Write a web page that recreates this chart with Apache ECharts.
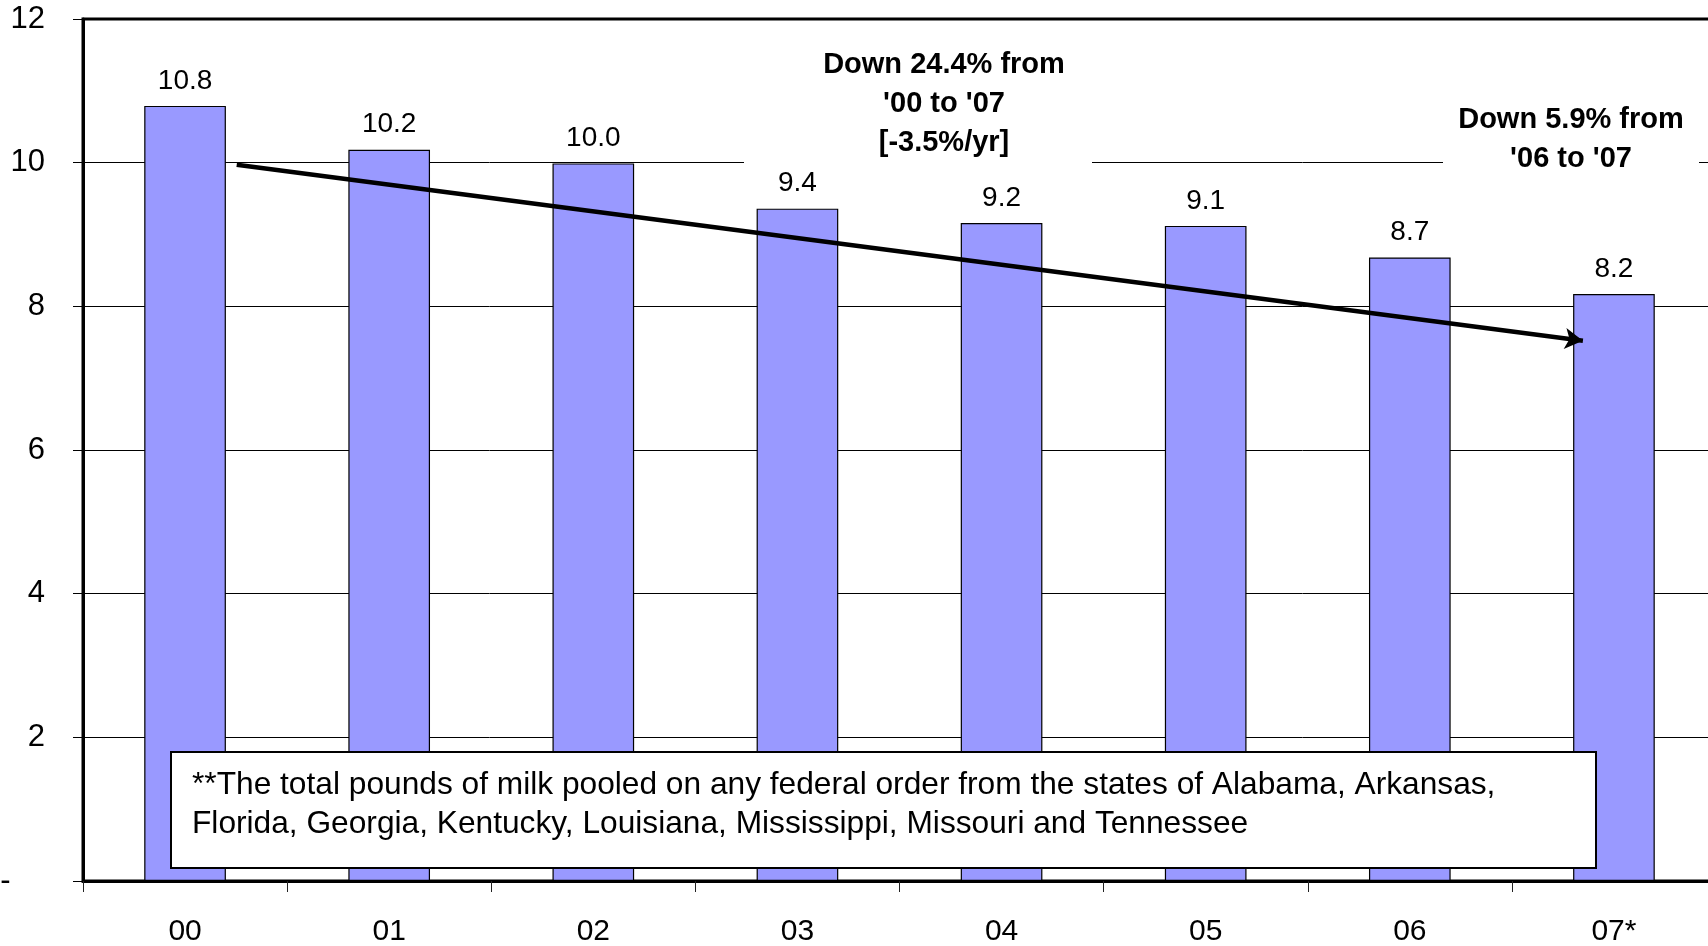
<!DOCTYPE html>
<html>
<head>
<meta charset="utf-8">
<script src="https://cdn.jsdelivr.net/npm/echarts@6/dist/echarts.min.js"></script>
<style>
html,body{margin:0;padding:0;background:#fff;}
#chart{width:1708px;height:946px;}
</style>
</head>
<body>
<div id="chart"></div>
<script>
// ---- data ----
const categories = ['00', '01', '02', '03', '04', '05', '06', '07*'];
const values = [10.79, 10.18, 9.99, 9.36, 9.16, 9.12, 8.68, 8.17];
const yTicks = [0, 2, 4, 6, 8, 10, 12];
// trend arrow endpoints: [category position (0..8), value]
const trendStart = [0.753, 9.97];
const trendEnd = [7.348, 7.52];
const annotation1 = ["Down 24.4% from", "'00 to '07", "[-3.5%/yr]"];
const annotation2 = ["Down 5.9% from", "'06 to '07"];
const footnote = ["**The total pounds of milk pooled on any federal order from the states of Alabama, Arkansas,",
                  "Florida, Georgia, Kentucky, Louisiana, Mississippi, Missouri and Tennessee"];

const FONT = "'Liberation Sans', Arial, sans-serif";
const chart = echarts.init(document.getElementById('chart'));

const option = {
  animation: false,
  backgroundColor: '#fff',
  grid: {left: 83, right: -8, top: 19, bottom: 65, show: true, borderColor: '#000', borderWidth: 3,
         backgroundColor: 'transparent', containLabel: false, outerBoundsMode: 'none'},
  xAxis: [{
    type: 'category',
    data: categories,
    boundaryGap: true,
    axisLine: {show: true, lineStyle: {color: '#000', width: 3}},
    axisTick: {show: true, length: 11, lineStyle: {color: '#222', width: 1}},
    axisLabel: {fontFamily: FONT, fontSize: 30, color: '#000', margin: 36},
    splitLine: {show: false}
  }, {
    type: 'value', min: 0, max: 8, show: false
  }],
  yAxis: {
    type: 'value',
    min: yTicks[0], max: yTicks[yTicks.length - 1], interval: 2,
    axisLine: {show: true, lineStyle: {color: '#000', width: 3}},
    axisTick: {show: true, length: 10, lineStyle: {color: '#000', width: 1}},
    axisLabel: {fontFamily: FONT, fontSize: 31, color: '#000', margin: 38,
      formatter: function (v) { return v === 0 ? '-    ' : String(v); }},
    splitLine: {show: true, lineStyle: {color: '#000', width: 1}}
  },
  series: [{
    type: 'bar',
    data: values,
    barWidth: '40%',
    itemStyle: {color: '#9999FF', borderColor: '#000', borderWidth: 1.2},
    label: {show: true, position: 'top', distance: 11, fontFamily: FONT, fontSize: 28, color: '#000',
      formatter: function (p) { return p.value.toFixed(1); }},
    z: 2
  }, {
    type: 'line',
    xAxisIndex: 1,
    data: [],
    markLine: {
      silent: true,
      symbol: ['none', 'arrow'],
      symbolSize: [16, 18],
      label: {show: false},
      lineStyle: {color: '#000', width: 4.5, type: 'solid'},
      data: [[{coord: trendStart}, {coord: trendEnd}]]
    },
    z: 5
  }],
  graphic: [
    {type: 'rect', z: 1, shape: {x: 744, y: 38, width: 348, height: 128}, style: {fill: '#fff'}},
    {type: 'rect', z: 1, shape: {x: 1443, y: 92, width: 256, height: 85}, style: {fill: '#fff'}},
    {type: 'text', z: 10, x: 944, y: 46, style: {text: annotation1.join('\n'), font: 'bold 29px ' + FONT, fill: '#000', align: 'center', verticalAlign: 'top', lineHeight: 38.7}},
    {type: 'text', z: 10, x: 1571, y: 100, style: {text: annotation2.join('\n'), font: 'bold 29px ' + FONT, fill: '#000', align: 'center', verticalAlign: 'top', lineHeight: 39}},
    {type: 'rect', z: 10, shape: {x: 171, y: 752, width: 1425, height: 116}, style: {fill: '#fff', stroke: '#000', lineWidth: 2}},
    {type: 'text', z: 11, x: 192, y: 766, style: {text: footnote.join('\n'), font: '31.7px ' + FONT, fill: '#000', align: 'left', verticalAlign: 'top', lineHeight: 39}}
  ]
};
chart.setOption(option);
</script>
</body>
</html>
